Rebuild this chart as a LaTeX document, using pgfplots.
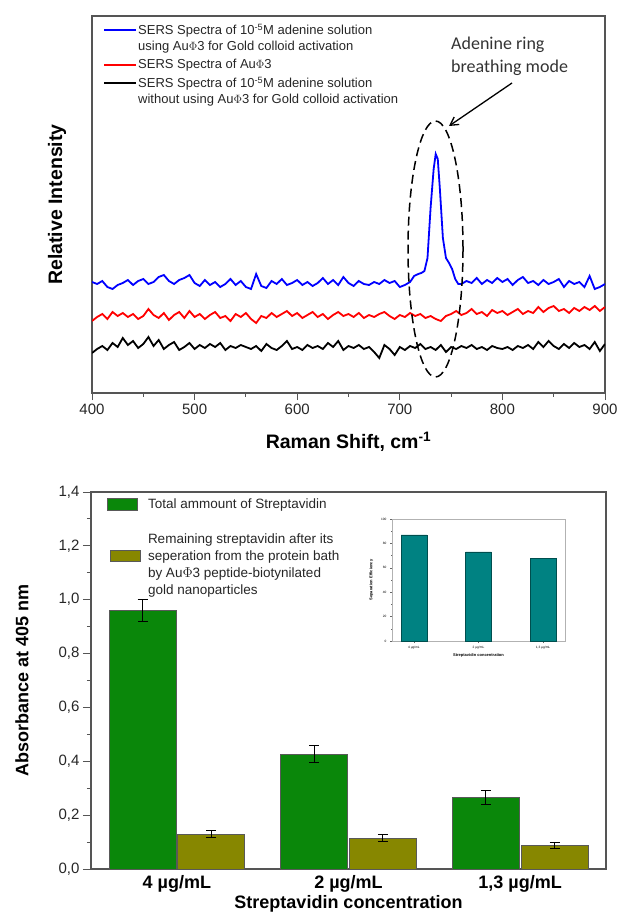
\documentclass[border=0pt]{standalone}
\usepackage{fontspec}
\setmainfont{Liberation Sans}
\newfontfamily\calibri{Carlito}
\usepackage{pgfplots}
\pgfplotsset{compat=1.18}
\usetikzlibrary{arrows.meta}
\definecolor{bargreen}{RGB}{10,135,10}
\definecolor{barolive}{RGB}{135,135,0}
\definecolor{barteal}{RGB}{0,130,130}
\definecolor{axgray}{RGB}{85,85,85}
\begin{document}
\begin{tikzpicture}
\useasboundingbox (0,0) rectangle (618pt,-912pt);
% ---------------- top panel ----------------
\begin{axis}[
  at={(92pt,-393pt)}, anchor=south west,
  scale only axis, width=513pt, height=377pt,
  xmin=400, xmax=900, ymin=0, ymax=377,
  ytick=\empty,
  xtick={400,500,...,900}, minor x tick num=1,
  xtick pos=left, tick align=outside,
  major tick length=7pt, minor tick length=3.5pt,
  every tick/.style={axgray, line width=1pt},
  axis line style={axgray, line width=1.2pt},
  /pgf/number format/assume math mode=true,
  tick label style={font=\fontsize{15}{17}\selectfont, text=black!85},
  xlabel={Raman Shift, cm\textsuperscript{-1}},
  ylabel={Relative Intensity},
  xlabel style={font=\fontsize{19.5}{21}\selectfont\bfseries, at={(axis description cs:0.5,-0.13)}, anchor=center},
  ylabel style={font=\fontsize{19.5}{21}\selectfont\bfseries, at={(axis description cs:-0.068,0.5)}, anchor=center},
  legend style={at={(axis description cs:0,1)}, anchor=north west, xshift=11pt, yshift=-7pt,
    draw=none, fill=none, inner sep=0pt, row sep=5pt,
    font=\fontsize{13}{16}\selectfont,
    nodes={inner sep=1pt, text=black!85},
    /tikz/every even column/.append style={column sep=2pt}},
  legend cell align=left,
  legend style={cells={align=left}},
]
\addplot[blue, line width=1.8pt, legend image code/.code={\draw[blue, line width=2pt] (0pt,8pt) -- (32pt,8pt);}] coordinates {
(400,111) (405,109) (410,112) (415,106) (420,104) (425,108) (430,110) (435,113) (440,108) (445,112)
(450,114) (455,109) (460,111) (465,116) (470,118) (475,112) (480,109) (485,113) (490,115) (495,118)
(500,110) (505,107) (510,113) (515,108) (520,111) (525,106) (530,109) (535,114) (540,108) (545,112)
(550,106) (555,104) (560,119) (565,107) (570,105) (575,112) (580,109) (585,114) (590,108) (595,110)
(600,113) (605,108) (610,111) (615,107) (620,110) (625,115) (630,109) (635,113) (640,108) (645,116)
(650,110) (655,107) (660,112) (665,109) (670,108) (675,111) (680,109) (685,113) (690,110) (695,112)
(700,106) (705,108) (710,111) (714,117) (718,119) (721,120) (724,122) (727,135) (730,185) (733,224)
(735,239) (737,234) (739,205) (742,155) (745,135) (748,130) (751,124) (754,114) (757,109) (760,109)
(765,112) (770,110)
(775,115) (780,109) (785,113) (790,110) (795,115) (800,111) (805,114) (810,108) (815,113) (820,116)
(825,110) (830,112) (835,108) (840,113) (845,109) (850,111) (855,114) (860,106) (865,112) (870,109)
(875,111) (880,106) (885,117) (890,104) (895,106) (900,109)};
\addlegendentry{SERS Spectra of 10\textsuperscript{-5}M adenine solution\\using Au$\Phi$3 for Gold colloid activation}
\addplot[red, line width=1.8pt, legend image code/.code={\draw[red, line width=2pt] (0pt,0pt) -- (32pt,0pt);}] coordinates {
(400,72) (405,76) (410,79) (415,74) (420,81) (425,77) (430,80) (435,76) (440,79) (445,74)
(450,77) (455,84) (460,78) (465,75) (470,80) (475,73) (480,78) (485,81) (490,75) (495,82)
(500,76) (505,79) (510,74) (515,78) (520,81) (525,75) (530,77) (535,72) (540,79) (545,76)
(550,80) (555,74) (560,70) (565,77) (570,75) (575,80) (580,76) (585,79) (590,82) (595,77)
(600,80) (605,75) (610,78) (615,81) (620,76) (625,79) (630,74) (635,78) (640,81) (645,77)
(650,79) (655,76) (660,80) (665,75) (670,78) (675,76) (680,79) (685,81) (690,77) (695,74)
(700,78) (705,76) (710,80) (715,77) (720,79) (725,75) (730,77) (735,74) (740,72) (745,77)
(750,79) (755,82) (760,78) (765,80) (770,84) (775,79) (780,81) (785,77) (790,83) (795,80)
(800,82) (805,78) (810,81) (815,84) (820,79) (825,82) (830,80) (835,86) (840,81) (845,85)
(850,87) (855,82) (860,84) (865,80) (870,85) (875,82) (880,86) (885,83) (890,87) (895,82) (900,86)};
\addlegendentry{SERS Spectra of Au$\Phi$3}
\addplot[black, line width=1.8pt, legend image code/.code={\draw[black, line width=2pt] (0pt,8pt) -- (32pt,8pt);}] coordinates {
(400,40) (405,44) (410,47) (415,43) (420,50) (425,46) (430,55) (435,48) (440,52) (445,45)
(450,49) (455,56) (460,47) (465,53) (470,44) (475,48) (480,51) (485,43) (490,46) (495,50)
(500,44) (505,48) (510,45) (515,49) (520,46) (525,50) (530,43) (535,47) (540,45) (545,48)
(550,46) (555,44) (560,47) (565,42) (570,49) (575,45) (580,43) (585,47) (590,52) (595,44)
(600,46) (605,43) (610,48) (615,45) (620,47) (625,44) (630,50) (635,46) (640,52) (645,43)
(650,47) (655,45) (660,48) (665,44) (670,46) (675,41) (680,35) (685,48) (690,44) (695,38)
(700,46) (705,43) (710,47) (715,45) (720,49) (725,44) (730,46) (735,43) (740,48) (745,41)
(750,46) (755,44) (760,47) (765,45) (770,48) (775,44) (780,46) (785,43) (790,47) (795,45)
(800,44) (805,46) (810,43) (815,47) (820,45) (825,48) (830,44) (835,51) (840,46) (845,52)
(850,47) (855,44) (860,49) (865,45) (870,50) (875,46) (880,48) (885,44) (890,51) (895,42) (900,49)};
\addlegendentry{SERS Spectra of 10\textsuperscript{-5}M adenine solution\\without using Au$\Phi$3 for Gold colloid activation}
\end{axis}
% annotation on top panel
\draw[black, line width=1.5pt, dash pattern=on 9pt off 5pt] (435.5pt,-249pt) ellipse [x radius=27.5pt, y radius=128pt];
\draw[black, line width=1.3pt, -{Straight Barb[length=8pt,width=9pt]}] (512pt,-83pt) -- (449pt,-126pt);
\node[anchor=west, align=left, font=\calibri\fontsize{18}{23}\selectfont, text=black!80, inner sep=0pt] at (451pt,-56.5pt) {Adenine ring\\breathing mode};
% ---------------- bottom panel ----------------
\begin{axis}[
  at={(91pt,-869pt)}, anchor=south west,
  scale only axis, width=515pt, height=377pt,
  xmin=-0.5, xmax=2.5, ymin=0, ymax=1.4,
  ybar, bar width=0.39,
  ytick={0,0.2,...,1.4}, minor y tick num=1,
  ytick pos=left, tick align=outside,
  major tick length=8pt, minor tick length=4pt,
  xtick={0,1,2},
  xticklabels={{4 µg/mL},{2 µg/mL},{1,3 µg/mL}},
  x tick style={draw=none},
  every tick/.style={axgray, line width=1pt},
  axis line style={axgray, line width=1.3pt},
  /pgf/number format/assume math mode=true,
  yticklabel style={font=\fontsize{15}{17}\selectfont, text=black!85,
    /pgf/number format/.cd, fixed, fixed zerofill, precision=1, use comma},
  xticklabel style={font=\fontsize{18}{20}\selectfont\bfseries, yshift=5pt},
  xlabel={Streptavidin concentration},
  ylabel={Absorbance at 405 nm},
  xlabel style={font=\fontsize{18}{20}\selectfont\bfseries, at={(axis description cs:0.5,-0.092)}, anchor=center},
  ylabel style={font=\fontsize{18}{20}\selectfont\bfseries, at={(axis description cs:-0.134,0.5)}, anchor=center},
  legend style={at={(axis description cs:0,1)}, anchor=north west, xshift=15.5pt, yshift=-5.75pt,
    draw=none, fill=none, inner sep=0pt, row sep=21pt,
    font=\fontsize{13.5}{17}\selectfont,
    nodes={inner sep=1pt, text=black!85},
    /tikz/every odd column/.append style={column sep=6pt}},
  legend cell align=left,
  legend style={cells={align=left}},
]
\addplot[fill=bargreen, draw=black!65, line width=0.8pt, bar shift=-0.2,
  legend image code/.code={\draw[fill=bargreen, draw=black!65, line width=0.8pt] (0pt,-5.75pt) rectangle (30pt,5.75pt);},
  error bars/.cd, y dir=both, y explicit,
  error bar style={black, line width=1pt},
  error mark options={rotate=90, mark size=5pt, black, line width=1pt}]
  coordinates {(0,0.961) +- (0,0.041) (1,0.427) +- (0,0.031) (2,0.266) +- (0,0.025)};
\addlegendentry{Total ammount of Streptavidin}
\addplot[fill=barolive, draw=black!65, line width=0.8pt, bar shift=0.2,
  legend image code/.code={\draw[fill=barolive, draw=black!65, line width=0.8pt] (3.5pt,3pt) rectangle (33.5pt,14pt);},
  error bars/.cd, y dir=both, y explicit,
  error bar style={black, line width=1pt},
  error mark options={rotate=90, mark size=5pt, black, line width=1pt}]
  coordinates {(0,0.130) +- (0,0.012) (1,0.115) +- (0,0.012) (2,0.086) +- (0,0.011)};
\addlegendentry{Remaining streptavidin after its\\seperation from the protein bath\\by Au$\Phi$3 peptide-biotynilated\\gold nanoparticles}
\end{axis}
% ---------------- inset ----------------
\begin{axis}[
  at={(392pt,-641pt)}, anchor=south west,
  scale only axis, width=173pt, height=122pt,
  xmin=-0.34, xmax=2.34, ymin=0, ymax=100,
  ybar, bar width=0.4,
  ytick={0,20,...,100}, minor y tick num=1,
  ytick pos=left, xtick pos=left, tick align=outside,
  major tick length=2pt, minor tick length=1pt,
  xtick={0,1,2},
  xticklabels={{4 µg/mL},{2 µg/mL},{1,3 µg/mL}},
  every tick/.style={black!60, line width=0.4pt},
  axis line style={black!30, line width=0.8pt},
  /pgf/number format/assume math mode=true,
  tick label style={font=\fontsize{3.2}{4}\selectfont},
  xlabel={Streptavidin concentration},
  ylabel={Separation Efficiency},
  xlabel style={font=\fontsize{4}{5}\selectfont\bfseries, at={(axis description cs:0.5,-0.115)}, anchor=center},
  ylabel style={font=\fontsize{4}{5}\selectfont\bfseries, at={(axis description cs:-0.12,0.5)}, anchor=center},
]
\addplot[fill=barteal, draw=barteal!60!black, line width=0.6pt, bar shift=0pt]
  coordinates {(0,87) (1,73) (2,68)};
\end{axis}
\end{tikzpicture}
\end{document}
